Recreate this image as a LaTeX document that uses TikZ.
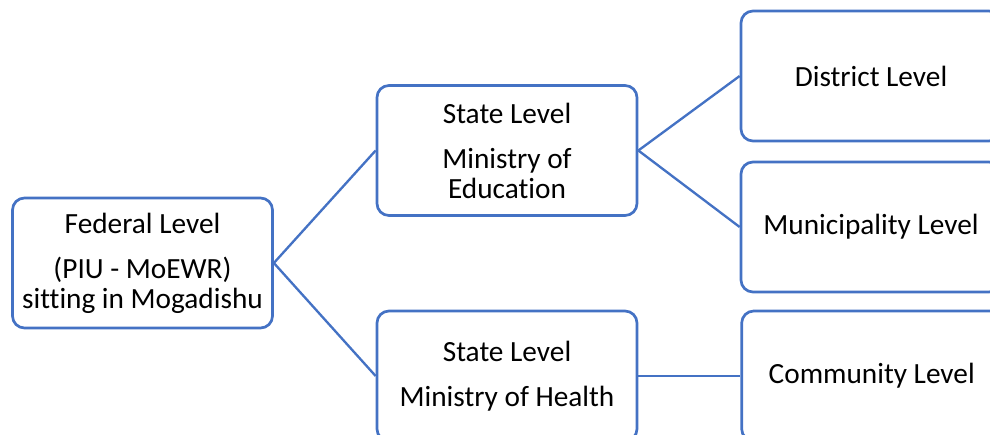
\documentclass[tikz,border=0pt]{standalone}
\usepackage{fontspec}
\setmainfont{Carlito}[Ligatures=NoCommon]
\usepackage{tikz}
\usetikzlibrary{positioning}
\definecolor{boxblue}{RGB}{68,114,196}

\begin{document}
\begin{tikzpicture}[
  x=0.03cm, y=-0.03cm,
  node distance=3.06cm and 3.06cm,
  levelbox/.style={draw=boxblue, line width=2.3pt, rounded corners=0.36cm,
    minimum width=7.8cm, minimum height=3.9cm, inner sep=0pt, align=center,
    font=\fontsize{25}{25.6}\selectfont},
  link/.style={draw=boxblue, line width=2pt},
]
\useasboundingbox (0,0) rectangle (990,434);
\clip (0,0) rectangle (990,434);

\node[levelbox] (federal) at (142.5,263) {Federal Level\\[0.45cm](PIU - MoEWR)\\sitting in Mogadishu};
\node[levelbox] (stateedu) at (507,150.5) {State Level\\[0.45cm]Ministry of\\Education};
\node[levelbox] (statehealth) at (507,376) {State Level\\[0.45cm]Ministry of Health};

\node[levelbox] (district) at (871,76) {District Level};
\node[levelbox] (municipal) at (871,227) {Municipality Level};
\node[levelbox, right=of statehealth] (community) {Community Level};

\path (federal.east) edge[link] (stateedu.west)
(federal.east) edge[link] (statehealth.west)
(stateedu.east) edge[link] (district.west)
(stateedu.east) edge[link] (municipal.west)
(statehealth.east) edge[link] (community.west);
\end{tikzpicture}
\end{document}
